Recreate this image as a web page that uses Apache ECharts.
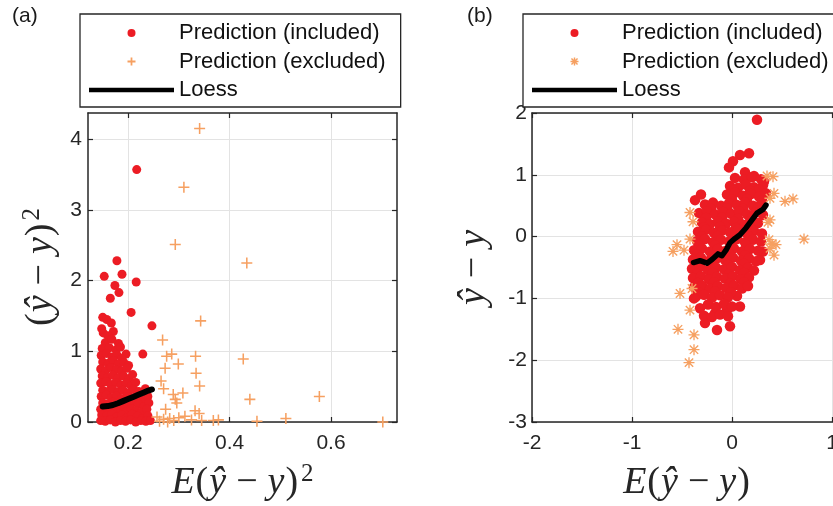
<!DOCTYPE html>
<html>
<head>
<meta charset="utf-8">
<title>Prediction error vs expected error</title>
<script src="https://cdn.jsdelivr.net/npm/echarts@6/dist/echarts.min.js"></script>
<style>
  html, body { margin: 0; padding: 0; background: #fff; }
  #chart { width: 833px; height: 506px; }
</style>
</head>
<body>
<div id="chart"></div>
<script>
// ---- data ----

// (a) squared error vs expected squared error
var aIncluded = [
    [0.217, 3.57], [0.178, 2.28], [0.153, 2.06], [0.188, 2.09], [0.216, 1.98], [0.174, 1.93],
    [0.182, 1.83], [0.165, 1.75], [0.206, 1.55], [0.247, 1.36], [0.150, 1.48], [0.158, 1.45],
    [0.167, 1.40], [0.171, 1.28], [0.151, 1.26], [0.181, 1.11], [0.196, 0.96], [0.229, 0.96],
    [0.148, 1.32], [0.160, 1.22], [0.155, 1.12], [0.168, 1.17], [0.149, 1.04], [0.163, 1.05],
    [0.176, 1.02], [0.185, 1.06],
    [0.147, 0.94], [0.157, 0.97], [0.168, 0.92], [0.178, 0.95], [0.188, 0.90],
    [0.150, 0.85], [0.161, 0.83], [0.171, 0.87], [0.181, 0.82], [0.192, 0.84], [0.201, 0.80],
    [0.146, 0.75], [0.156, 0.73], [0.166, 0.77], [0.177, 0.74], [0.187, 0.72], [0.198, 0.76],
    [0.149, 0.65], [0.159, 0.63], [0.170, 0.66], [0.180, 0.62], [0.191, 0.65], [0.201, 0.61], [0.209, 0.67],
    [0.146, 0.55], [0.156, 0.57], [0.166, 0.53], [0.176, 0.56], [0.186, 0.52], [0.196, 0.55], [0.206, 0.51], [0.215, 0.56],
    [0.150, 0.45], [0.160, 0.43], [0.170, 0.46], [0.180, 0.42], [0.190, 0.45], [0.200, 0.41], [0.211, 0.46], [0.221, 0.43], [0.234, 0.47],
    [0.147, 0.36], [0.157, 0.38], [0.167, 0.34], [0.177, 0.37], [0.187, 0.33], [0.197, 0.36], [0.207, 0.32], [0.218, 0.35], [0.228, 0.31], [0.239, 0.36],
    [0.150, 0.27], [0.160, 0.25], [0.170, 0.28], [0.180, 0.24], [0.190, 0.27], [0.200, 0.23], [0.210, 0.28], [0.220, 0.25], [0.231, 0.22], [0.241, 0.27],
    [0.146, 0.18], [0.156, 0.16], [0.166, 0.19], [0.176, 0.15], [0.186, 0.18], [0.196, 0.14], [0.206, 0.19], [0.216, 0.16], [0.226, 0.13], [0.237, 0.18],
    [0.148, 0.10], [0.158, 0.08], [0.168, 0.11], [0.178, 0.07], [0.188, 0.10], [0.198, 0.06], [0.208, 0.11], [0.218, 0.08], [0.228, 0.05], [0.239, 0.09],
    [0.146, 0.02], [0.155, 0.01], [0.165, 0.03], [0.175, 0.00], [0.185, 0.02], [0.195, 0.01], [0.205, 0.03], [0.215, 0.00], [0.225, 0.02], [0.235, 0.01], [0.244, 0.02]
];
var aExcluded = [
    [0.341, 4.15], [0.310, 3.32], [0.293, 2.51], [0.434, 2.25], [0.343, 1.43], [0.268, 1.16],
    [0.276, 0.93], [0.286, 0.96], [0.333, 0.93], [0.427, 0.89], [0.299, 0.82], [0.273, 0.76],
    [0.334, 0.69], [0.341, 0.51], [0.265, 0.58], [0.270, 0.47], [0.289, 0.39], [0.308, 0.41],
    [0.293, 0.32], [0.296, 0.27], [0.440, 0.32], [0.577, 0.36], [0.332, 0.16], [0.340, 0.12],
    [0.274, 0.18], [0.257, 0.07], [0.270, 0.04], [0.282, 0.05], [0.290, 0.02], [0.300, 0.06],
    [0.312, 0.08], [0.262, 0.01], [0.278, 0.00], [0.345, 0.02], [0.368, 0.02], [0.378, 0.03],
    [0.454, 0.01], [0.511, 0.05], [0.702, 0.00], [0.325, 0.03]
];
var aLoess = [
    [0.150, 0.22], [0.160, 0.225], [0.170, 0.24], [0.180, 0.265], [0.190, 0.295], [0.200, 0.325],
    [0.210, 0.355], [0.220, 0.385], [0.230, 0.415], [0.240, 0.445], [0.247, 0.46]
];

// (b) signed error vs expected error
var bIncluded = [
    [0.25, 1.89], [0.17, 1.35], [0.08, 1.32], [0.01, 1.22], [-0.03, 1.12], [0.13, 1.04],
    [0.22, 0.98], [0.32, 0.89], [-0.31, 0.68], [-0.37, 0.59], [-0.02, -1.45], [-0.15, -1.51],
    [-0.27, -1.40], [-0.17, -1.24], [0.08, -1.13], [-0.32, -1.16], [-0.05, -1.19], [-0.38, -1.00],
    [0.05, -0.96], [0.31, -0.24], [0.28, -0.38],
    [0.03, 0.95], [0.12, 0.92], [0.20, 0.96], [0.29, 0.93],
    [-0.02, 0.82], [0.06, 0.79], [0.14, 0.84], [0.22, 0.80], [0.31, 0.83],
    [0.02, 0.75], [0.18, 0.74], [0.27, 0.76],
    [-0.05, 0.68], [0.03, 0.71], [0.11, 0.66], [0.19, 0.69], [0.27, 0.65], [0.34, 0.70],
    [0.00, 0.60], [0.15, 0.61], [0.30, 0.59],
    [-0.27, 0.52], [-0.19, 0.55], [-0.11, 0.50], [-0.03, 0.54], [0.05, 0.51], [0.13, 0.55], [0.21, 0.50], [0.29, 0.53],
    [-0.21, 0.45], [-0.05, 0.46], [0.11, 0.45], [0.26, 0.45],
    [-0.33, 0.38], [-0.25, 0.41], [-0.17, 0.36], [-0.09, 0.40], [-0.01, 0.37], [0.07, 0.41], [0.15, 0.36], [0.23, 0.39], [0.31, 0.35],
    [-0.26, 0.30], [-0.10, 0.31], [0.06, 0.29], [0.20, 0.31],
    [-0.30, 0.23], [-0.22, 0.20], [-0.14, 0.25], [-0.06, 0.21], [0.02, 0.24], [0.10, 0.20], [0.18, 0.25], [0.26, 0.22],
    [-0.28, 0.15], [-0.12, 0.16], [0.04, 0.14], [0.18, 0.16],
    [-0.34, 0.08], [-0.26, 0.11], [-0.18, 0.06], [-0.10, 0.10], [-0.02, 0.07], [0.06, 0.11], [0.14, 0.06], [0.22, 0.09], [0.30, 0.05],
    [-0.30, 0.00], [-0.14, 0.01], [0.02, -0.01], [0.17, 0.00],
    [-0.35, -0.07], [-0.27, -0.04], [-0.19, -0.09], [-0.11, -0.05], [-0.03, -0.08], [0.05, -0.04], [0.13, -0.09], [0.21, -0.05], [0.29, -0.08],
    [-0.33, -0.15], [-0.17, -0.14], [-0.01, -0.15], [0.14, -0.13],
    [-0.38, -0.22], [-0.30, -0.19], [-0.22, -0.24], [-0.14, -0.20], [-0.06, -0.23], [0.02, -0.19], [0.10, -0.24], [0.18, -0.20], [0.26, -0.23],
    [-0.35, -0.29], [-0.19, -0.30], [-0.03, -0.28], [0.13, -0.30],
    [-0.39, -0.37], [-0.31, -0.34], [-0.23, -0.39], [-0.15, -0.35], [-0.07, -0.38], [0.01, -0.34], [0.09, -0.39], [0.17, -0.35], [0.24, -0.40],
    [-0.36, -0.45], [-0.20, -0.44], [-0.04, -0.46], [0.12, -0.44],
    [-0.40, -0.52], [-0.32, -0.49], [-0.24, -0.54], [-0.16, -0.50], [-0.08, -0.53], [0.00, -0.49], [0.08, -0.54], [0.16, -0.50], [0.22, -0.55],
    [-0.35, -0.60], [-0.19, -0.59], [-0.03, -0.61], [0.12, -0.59],
    [-0.39, -0.67], [-0.31, -0.64], [-0.23, -0.69], [-0.15, -0.65], [-0.07, -0.68], [0.01, -0.64], [0.09, -0.69], [0.17, -0.66],
    [-0.34, -0.75], [-0.18, -0.74], [-0.02, -0.76], [0.12, -0.74],
    [-0.38, -0.82], [-0.30, -0.79], [-0.22, -0.84], [-0.14, -0.80], [-0.06, -0.83], [0.02, -0.79], [0.10, -0.84], [0.16, -0.80],
    [-0.33, -0.90], [-0.17, -0.89], [-0.01, -0.90],
    [-0.36, -0.97], [-0.28, -0.94], [-0.20, -0.99], [-0.12, -0.95], [-0.04, -0.98],
    [-0.24, -1.10], [-0.16, -1.14], [-0.08, -1.09], [0.00, -1.13],
    [-0.28, -1.28], [-0.20, -1.30], [-0.12, -1.26], [-0.04, -1.29]
];
var bExcluded = [
    [0.35, 0.98], [0.41, 0.97], [0.42, 0.70], [0.38, 0.62], [0.53, 0.57], [0.61, 0.61],
    [-0.42, 0.39], [-0.39, 0.24], [0.38, 0.27], [0.36, 0.23], [-0.42, -0.04], [-0.55, -0.13],
    [-0.59, -0.24], [-0.48, -0.22], [0.72, -0.04], [0.37, -0.05], [0.40, -0.12], [0.44, -0.13],
    [0.38, -0.19], [0.42, -0.30], [-0.40, -0.84], [-0.52, -0.92], [-0.42, -1.19], [-0.54, -1.50],
    [-0.38, -1.59], [-0.38, -1.83], [-0.43, -2.04]
];
var bLoess = [
    [-0.385, -0.42], [-0.32, -0.39], [-0.25, -0.43], [-0.20, -0.37], [-0.14, -0.28], [-0.10, -0.31],
    [-0.06, -0.22], [-0.02, -0.10], [0.03, -0.03], [0.08, 0.03], [0.14, 0.14], [0.20, 0.27],
    [0.25, 0.38], [0.31, 0.44], [0.34, 0.51]
];

// tick labels
var aXTicks = [0.2, 0.4, 0.6];
var aYTicks = [0, 1, 2, 3, 4];
var bXTicks = [-2, -1, 0, 1];
var bYTicks = [-3, -2, -1, 0, 1, 2];

var seriesNames = ['Prediction (included)', 'Prediction (excluded)', 'Loess'];

// ---- styling ----
var AXIS = '#262626';
var RED = '#ec1c24';
var ORANGE = '#f6a061';
var PLUS = 'path://M4.3,0H5.7V4.3H10V5.7H5.7V10H4.3V5.7H0V4.3H4.3Z';
var STAR = 'path://M0,4.4H10V5.6H0Z M4.4,0H5.6V10H4.4Z M1.65,0.75L9.25,8.35L8.35,9.25L0.75,1.65Z M8.35,0.75L9.25,1.65L1.65,9.25L0.75,8.35Z';
// legend icons are drawn smaller, so their strokes are a bit heavier
var PLUS_ICON = 'path://M3.9,0H6.1V3.9H10V6.1H6.1V10H3.9V6.1H0V3.9H3.9Z';
var STAR_ICON = 'path://M0,4.1H10V5.9H0Z M4.1,0H5.9V10H4.1Z M1.85,0.55L9.45,8.15L8.15,9.45L0.55,1.85Z M8.15,0.55L9.45,1.85L1.85,9.45L0.55,8.15Z';
var LINE_ICON = 'path://M0,0H85V4.5H0Z';

var tickFont = { color: AXIS, fontSize: 21, fontFamily: 'Liberation Sans, Arial, sans-serif' };

var mathRich = {
    i: { fontFamily: 'Liberation Serif', fontStyle: 'italic', fontSize: 38, lineHeight: 42, color: AXIS },
    n: { fontFamily: 'Liberation Serif', fontSize: 38, lineHeight: 42, color: AXIS, padding: [0, 1] },
    m: { fontFamily: 'Liberation Serif', fontSize: 38, lineHeight: 42, color: AXIS, padding: [0, 10] },
    s: { fontFamily: 'Liberation Serif', fontSize: 25, lineHeight: 26, color: AXIS, verticalAlign: 'top', padding: [0, 0, 0, 2] }
};

function mainAxis(dim, gi, min, max, ticks, name, gap, margin) {
    return {
        type: 'value',
        gridIndex: gi,
        position: dim == 'x' ? 'bottom' : 'left',
        min: min,
        max: max,
        name: name,
        nameLocation: 'middle',
        nameGap: gap,
        nameMoveOverlap: false,
        nameTextStyle: { rich: mathRich },
        axisLine: { show: true, onZero: false, lineStyle: { color: AXIS, width: 1.5 } },
        axisTick: { show: true, inside: true, length: 5, customValues: ticks, lineStyle: { color: AXIS, width: 1.2 } },
        axisLabel: Object.assign({ show: true, customValues: ticks, margin: margin }, tickFont),
        splitLine: { show: true, lineStyle: { color: '#e3e3e3', width: 1 } }
    };
}

// mirrored axes on top / right, only to close the box and carry the inner ticks
function frameAxis(dim, gi, min, max, ticks) {
    return {
        type: 'value',
        gridIndex: gi,
        position: dim == 'x' ? 'top' : 'right',
        min: min,
        max: max,
        axisLine: { show: true, onZero: false, lineStyle: { color: AXIS, width: 1.5 } },
        axisTick: { show: true, inside: true, length: 5, customValues: ticks, lineStyle: { color: AXIS, width: 1.2 } },
        axisLabel: { show: false },
        splitLine: { show: false }
    };
}

function legendFor(left, excludedIcon) {
    return {
        orient: 'vertical',
        left: left,
        top: 14,
        padding: [8, 15, 6, 9],
        itemWidth: 85,
        itemHeight: 8,
        itemGap: 6.5,
        itemTextGap: 8,
        backgroundColor: '#fff',
        borderColor: AXIS,
        borderWidth: 1.3,
        borderRadius: 0,
        selectedMode: false,
        z: 10,
        textStyle: { fontSize: 22, lineHeight: 22, color: '#111', fontFamily: 'Liberation Sans, Arial, sans-serif' },
        data: [
            { name: seriesNames[0], icon: 'circle' },
            { name: seriesNames[1], icon: excludedIcon },
            { name: seriesNames[2], icon: LINE_ICON }
        ]
    };
}

function panelSeries(gi, included, dotSize, excluded, excludedSymbol, loess, loessWidth) {
    return [{
        type: 'scatter',
        name: seriesNames[0],
        xAxisIndex: gi * 2,
        yAxisIndex: gi * 2,
        data: included,
        symbol: 'circle',
        symbolSize: dotSize,
        itemStyle: { color: RED, opacity: 1 },
        z: 2
    }, {
        type: 'scatter',
        name: seriesNames[1],
        xAxisIndex: gi * 2,
        yAxisIndex: gi * 2,
        data: excluded,
        symbol: excludedSymbol,
        symbolSize: 11,
        itemStyle: { color: ORANGE, opacity: 1 },
        z: 3
    }, {
        type: 'line',
        name: seriesNames[2],
        xAxisIndex: gi * 2,
        yAxisIndex: gi * 2,
        data: loess,
        symbol: 'none',
        showSymbol: false,
        color: '#000',
        itemStyle: { color: '#000' },
        lineStyle: { color: '#000', width: loessWidth, join: 'round', cap: 'round' },
        z: 4
    }];
}

var aXName = '{i|E}{n|(}{i|ŷ}{m|−}{i|y}{n|)}{s|2}';
var aYName = '{n|(}{i|ŷ}{m|−}{i|y}{n|)}{s|2}';
var bXName = '{i|E}{n|(}{i|ŷ}{m|−}{i|y}{n|)}';
var bYName = '{i|ŷ}{m|−}{i|y}';

var myChart = echarts.init(document.getElementById('chart'), null, { renderer: 'canvas' });

var option = {
    animation: false,
    backgroundColor: '#fff',
    textStyle: { fontFamily: 'Liberation Sans, Arial, sans-serif' },
    title: [
        { text: '(a)', left: 12, top: 6, padding: 0, textStyle: { fontSize: 21, fontWeight: 'normal', color: '#1a1a1a' } },
        { text: '(b)', left: 467, top: 6, padding: 0, textStyle: { fontSize: 21, fontWeight: 'normal', color: '#1a1a1a' } }
    ],
    legend: [legendFor(80, PLUS_ICON), legendFor(523, STAR_ICON)],
    grid: [
        { left: 88, top: 113, width: 309, height: 309, containLabel: false, outerBoundsMode: 'none' },
        { left: 532, top: 113, width: 310, height: 309, containLabel: false, outerBoundsMode: 'none' }
    ],
    xAxis: [
        mainAxis('x', 0, 0.121, 0.73, aXTicks, aXName, 40, 11),
        frameAxis('x', 0, 0.121, 0.73, aXTicks),
        mainAxis('x', 1, -2, 1.1, bXTicks, bXName, 40, 11),
        frameAxis('x', 1, -2, 1.1, bXTicks)
    ],
    yAxis: [
        mainAxis('y', 0, 0, 4.37, aYTicks, aYName, 26, 6),
        frameAxis('y', 0, 0, 4.37, aYTicks),
        mainAxis('y', 1, -3, 2, bYTicks, bYName, 37, 5),
        frameAxis('y', 1, -3, 2, bYTicks)
    ],
    series: panelSeries(0, aIncluded, 9, aExcluded, PLUS, aLoess, 6)
        .concat(panelSeries(1, bIncluded, 10.5, bExcluded, STAR, bLoess, 5.5))
};

myChart.setOption(option);
</script>
</body>
</html>
